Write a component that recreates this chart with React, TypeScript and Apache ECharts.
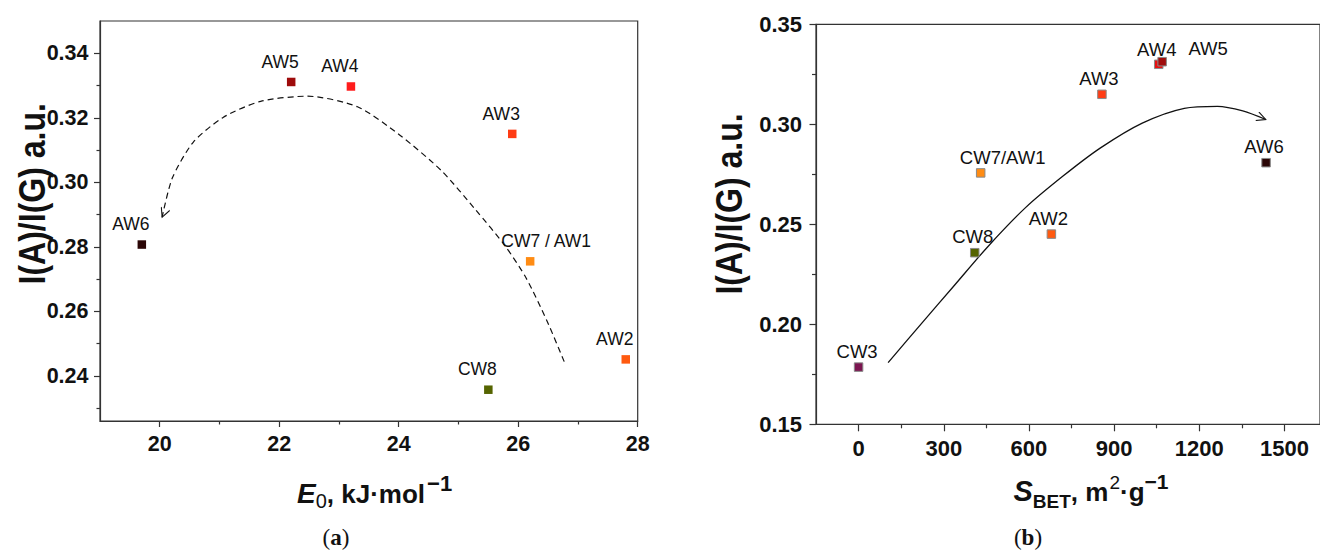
import React, { useEffect, useRef } from "react";
import * as echarts from "echarts";

// ---------- data: panel (a) ----------
const samplesA = ["AW6", "AW5", "AW4", "AW3", "CW7 / AW1", "AW2", "CW8"];
const e0Values = [19.7, 22.2, 23.2, 25.9, 26.2, 27.8, 25.5];
const ratioA = [0.2807, 0.3311, 0.3297, 0.315, 0.2755, 0.2451, 0.2357];
const colorsA = ["#2b0606", "#9e0b0b", "#ff1c1c", "#ff3c14", "#ff8c14", "#ff5a10", "#556400"];

const trendAX = [26.77, 26.48, 26.13, 25.78, 25.29, 24.72, 24.02, 23.31, 22.47, 21.69, 21.06, 20.56, 20.21, 20.04];
const trendAY = [0.2444, 0.2571, 0.2704, 0.2803, 0.2914, 0.3035, 0.3146, 0.3234, 0.3267, 0.3251, 0.3201, 0.3124, 0.3013, 0.2892];

const ticksAX = [20, 22, 24, 26, 28];
const minorAX = [21, 23, 25, 27];
const ticksAY = [0.24, 0.26, 0.28, 0.3, 0.32, 0.34];
const minorAY = [0.23, 0.25, 0.27, 0.29, 0.31, 0.33];

// ---------- data: panel (b) ----------
const samplesB = ["CW3", "CW8", "CW7/AW1", "AW2", "AW3", "AW4", "AW5", "AW6"];
const sbetValues = [0, 409, 430, 679, 857, 1057, 1069, 1435];
const ratioB = [0.1786, 0.2358, 0.2757, 0.2451, 0.315, 0.33, 0.3313, 0.2808];
const colorsB = ["#7b1550", "#556400", "#ff8c14", "#ff5a10", "#ff3c14", "#e81010", "#a00d0d", "#2b0606"];

const trendBX = [104, 219, 337, 455, 587, 720, 852, 999, 1147, 1264, 1353, 1434];
const trendBY = [0.1808, 0.2, 0.2194, 0.2388, 0.2582, 0.2741, 0.2882, 0.3006, 0.308, 0.309, 0.3067, 0.3024];

const ticksBX = [0, 300, 600, 900, 1200, 1500];
const minorBX = [150, 450, 750, 1050, 1350];
const ticksBY = [0.15, 0.2, 0.25, 0.3, 0.35];
const minorBY = [0.175, 0.225, 0.275, 0.325];

const SANS = '"Liberation Sans", Arial, sans-serif';
const SERIF = '"Liberation Serif", "Times New Roman", serif';
const AXIS_COLOR = "#333";
const TEXT_COLOR = "#111";

const labelShiftA: Record<string, [number, number]> = { "CW7 / AW1": [16, 0] };
const labelShiftB: Record<string, [number, number]> = {
  CW3: [-1.5, 0], CW8: [-2, 0], "CW7/AW1": [22, 0], AW2: [-3, 0], AW3: [-3, 0],
  AW4: [-2, 1], AW5: [46, 3], AW6: [-2, 0],
};

let measureCtx: CanvasRenderingContext2D | null = null;
function measure(text: string, font: string) {
  if (!measureCtx) measureCtx = document.createElement("canvas").getContext("2d");
  if (!measureCtx) return text.length * 12;
  measureCtx.font = font;
  return measureCtx.measureText(text).width;
}

type Piece = { text: string; size: number; weight?: string; style?: string; dy?: number; gap?: number };
function nameGraphics(pieces: Piece[], centerX: number, baseline: number) {
  const fontOf = (p: Piece) => `${p.style || "normal"} ${p.weight || "normal"} ${p.size}px ${SANS}`;
  const widths = pieces.map((p) => measure(p.text, fontOf(p)) + (p.gap || 0));
  const total = widths.reduce((a, b) => a + b, 0);
  let x = centerX - total / 2;
  return pieces.map((p, i) => {
    const el = {
      type: "text",
      x: x + (p.gap || 0),
      y: baseline + (p.dy || 0) - 0.34 * p.size,
      style: {
        text: p.text,
        fontSize: p.size,
        fontWeight: p.weight || "normal",
        fontStyle: p.style || "normal",
        fontFamily: SANS,
        fill: TEXT_COLOR,
        align: "left",
        verticalAlign: "middle",
      },
    };
    x += widths[i];
    return el;
  });
}

function valueAxis(gridIndex: number, pos: string, min: number, max: number, ticks: number[], tickLen: number, labelSize: number, margin: number, decimals: number) {
  return {
    type: "value", gridIndex, position: pos, min, max,
    axisLine: { show: true, onZero: false, lineStyle: { color: AXIS_COLOR, width: 1.2 } },
    axisTick: { show: true, inside: false, length: tickLen, customValues: ticks, lineStyle: { color: AXIS_COLOR, width: 1.2 } },
    axisLabel: {
      show: true, customValues: ticks, margin,
      fontSize: labelSize, fontWeight: "bold", fontFamily: SANS, color: TEXT_COLOR,
      formatter: (v: number) => (decimals ? v.toFixed(decimals) : String(Math.round(v))),
    },
    splitLine: { show: false },
  };
}
function minorAxis(gridIndex: number, pos: string, min: number, max: number, ticks: number[], tickLen: number) {
  return {
    type: "value", gridIndex, position: pos, min, max,
    axisLine: { show: false, onZero: false },
    axisTick: { show: true, inside: false, length: tickLen, customValues: ticks, lineStyle: { color: AXIS_COLOR, width: 1.2 } },
    axisLabel: { show: false },
    splitLine: { show: false },
  };
}

function buildOption() {
  const scatterA = samplesA.map((n, i) => ({
    name: n,
    value: [e0Values[i], ratioA[i]],
    itemStyle: { color: colorsA[i], opacity: 1 },
    label: { offset: labelShiftA[n] || [-11, 0] },
  }));
  const scatterB = samplesB.map((n, i) => ({
    name: n,
    value: [sbetValues[i], ratioB[i]],
    itemStyle: { color: colorsB[i], opacity: 1 },
    label: { offset: labelShiftB[n] || [0, 0] },
  }));
  const arrowPath = "path://M0,0L5,10L10,0M5,20";
  const lineA: any[] = trendAX.map((x, i) => [x, trendAY[i]]);
  lineA[lineA.length - 1] = {
    value: lineA[lineA.length - 1], symbol: arrowPath, symbolSize: [9, 18], symbolRotate: -22,
    itemStyle: { color: "transparent", borderColor: "#111", borderWidth: 1.2 },
  };
  const lineB: any[] = trendBX.map((x, i) => [x, trendBY[i]]);
  lineB[lineB.length - 1] = {
    value: lineB[lineB.length - 1], symbol: arrowPath, symbolSize: [9, 18], symbolRotate: 69,
    itemStyle: { color: "transparent", borderColor: "#111", borderWidth: 1.2 },
  };

  const nameA = nameGraphics(
    [
      { text: "E", size: 28, weight: "bold", style: "italic" },
      { text: "0", size: 20, dy: 5 },
      { text: ", kJ·mol", size: 26, weight: "bold" },
      { text: "−1", size: 22, weight: "bold", dy: -12, gap: 2 },
    ],
    374.6, 502.7
  );
  const nameB = nameGraphics(
    [
      { text: "S", size: 29, weight: "bold", style: "italic" },
      { text: "BET", size: 19, weight: "bold", dy: 7 },
      { text: ", m", size: 26, weight: "bold" },
      { text: "2", size: 19, dy: -12.3, gap: 1 },
      { text: "·g", size: 26, weight: "bold" },
      { text: "−1", size: 21, weight: "bold", dy: -12.3 },
    ],
    1091, 500.9
  );

  const labelBase = { show: true, position: "top", formatter: "{b}", fontFamily: SANS, color: TEXT_COLOR, opacity: 1 };
  const yName = { text: "I(A)/I(G) a.u.", fontSize: 32, fontWeight: "bold", fontFamily: SANS, fill: TEXT_COLOR, align: "center", verticalAlign: "middle" };

  return {
    animation: false,
    backgroundColor: "#fff",
    grid: [
      { left: 100, top: 21, width: 537.7, height: 400, show: true, borderColor: AXIS_COLOR, borderWidth: 1.2, containLabel: false },
      { left: 816, top: 24.3, width: 506, height: 400, show: true, borderColor: AXIS_COLOR, borderWidth: 1.2, containLabel: false },
    ],
    xAxis: [
      valueAxis(0, "bottom", 19, 28, ticksAX, 6, 21.5, 12, 0),
      minorAxis(0, "bottom", 19, 28, minorAX, 3.5),
      valueAxis(1, "bottom", -150, 1625, ticksBX, 7, 22, 13, 0),
      minorAxis(1, "bottom", -150, 1625, minorBX, 4),
    ],
    yAxis: [
      valueAxis(0, "left", 0.226, 0.35, ticksAY, 6, 21.5, 11.5, 2),
      minorAxis(0, "left", 0.226, 0.35, minorAY, 3.5),
      valueAxis(1, "left", 0.15, 0.35, ticksBY, 6.5, 22, 14, 2),
      minorAxis(1, "left", 0.15, 0.35, minorBY, 4),
    ],
    series: [
      {
        type: "line", xAxisIndex: 0, yAxisIndex: 0, data: lineA, smooth: 0.25,
        symbol: "none", showSymbol: true, silent: true,
        lineStyle: { color: "#111", width: 1.2, type: [6, 4] },
        z: 1,
      },
      {
        type: "scatter", xAxisIndex: 0, yAxisIndex: 0, data: scatterA,
        symbol: "rect", symbolSize: 8.5, z: 3,
        itemStyle: { opacity: 1 },
        label: { ...labelBase, distance: 7, fontSize: 17.5 },
      },
      {
        type: "line", xAxisIndex: 2, yAxisIndex: 2, data: lineB, smooth: 0.3,
        symbol: "none", showSymbol: true, silent: true,
        lineStyle: { color: "#111", width: 1.3 },
        z: 1,
      },
      {
        type: "scatter", xAxisIndex: 2, yAxisIndex: 2, data: scatterB,
        symbol: "rect", symbolSize: 8.5, z: 3,
        itemStyle: { borderColor: "#8a8a8a", borderWidth: 1, opacity: 1 },
        label: { ...labelBase, distance: 1.5, fontSize: 18.5 },
      },
    ],
    graphic: [
      { type: "text", x: 32.2, y: 193.8, rotation: Math.PI / 2, scaleY: 1.15, style: yName },
      { type: "text", x: 729.5, y: 204, rotation: Math.PI / 2, scaleY: 1.15, style: yName },
      ...nameA,
      ...nameB,
      {
        type: "text", x: 336, y: 537,
        style: {
          text: "{p|(}{b|a}{p|)}", align: "center", verticalAlign: "middle",
          rich: {
            p: { fontSize: 23, fontFamily: SERIF, fill: TEXT_COLOR, color: TEXT_COLOR },
            b: { fontSize: 23, fontFamily: SERIF, fontWeight: "bold", fill: TEXT_COLOR, color: TEXT_COLOR },
          },
        },
      },
      {
        type: "text", x: 1028, y: 537,
        style: {
          text: "{p|(}{b|b}{p|)}", align: "center", verticalAlign: "middle",
          rich: {
            p: { fontSize: 23, fontFamily: SERIF, fill: TEXT_COLOR, color: TEXT_COLOR },
            b: { fontSize: 23, fontFamily: SERIF, fontWeight: "bold", fill: TEXT_COLOR, color: TEXT_COLOR },
          },
        },
      },
    ],
  };
}

export default function App() {
  const ref = useRef<HTMLDivElement>(null);
  useEffect(() => {
    if (!ref.current) return;
    const chart = echarts.init(ref.current, null, { renderer: "svg" });
    chart.setOption(buildOption() as any);
    return () => chart.dispose();
  }, []);
  return <div ref={ref} style={{ position: "absolute", left: 0, top: 0, width: 1320, height: 553, background: "#fff" }} />;
}
